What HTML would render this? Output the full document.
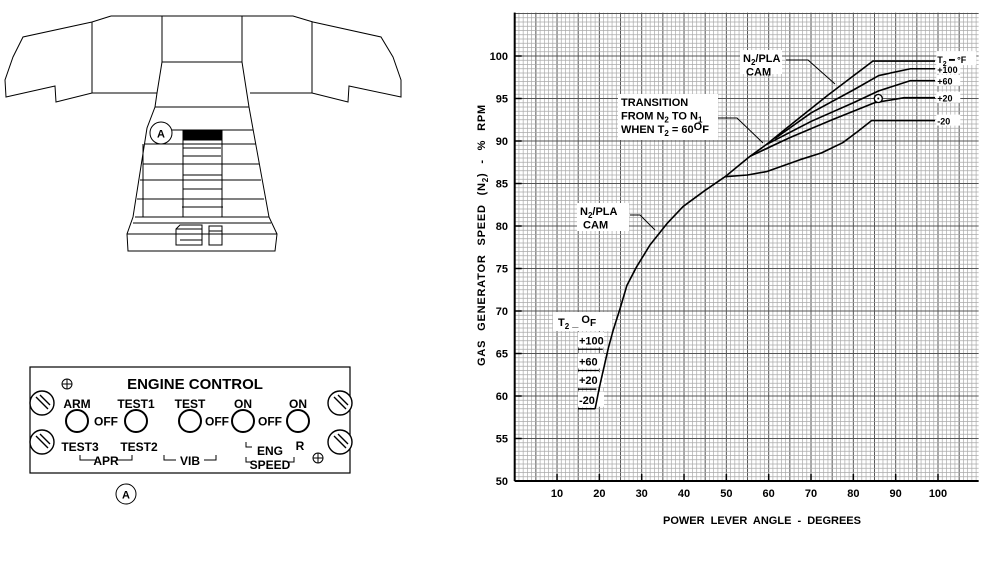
<!DOCTYPE html>
<html><head><meta charset="utf-8"><style>
body{margin:0;background:#fff;font-family:"Liberation Sans",Arial,sans-serif}
svg text{font-family:"Liberation Sans",Arial,sans-serif;font-weight:bold;fill:#000}
</style></head><body>
<svg id="s" width="982" height="569" viewBox="0 0 982 569" xmlns="http://www.w3.org/2000/svg">
<g fill="none" stroke="#000" stroke-width="1">
<path d="M111,16 L293,16 L313,22 L381,37 L393,57 L401,80 L401,97 L349,86 L348,102 L312,93 L250,93"/>
<path d="M111,16 L92,22 L23,37 L13,57 L5,80 L6,97 L55,86 L56,102 L92,93 L157,93"/>
<path d="M92,22 V93 M312,22 V93 M162,16 V62 M242,16 V62 M162,62 H242"/>
<path d="M162,62 L157,93 L155,107 L147,128 L133,217 L127,234 L128,251 L275,251 L277,234 L269,217 L249,107 L242,62"/>
<path d="M155,107 H249 M172,130 H253 M145,144 H256 M183,148 H221 M183,156 H221 M143,164 H259 M183,175 H222 M140,180 H261 M183,189 H222 M137,199 H264 M182,207 H223 M135,217 H269 M127,234 H277 M133,223 H271"/>
<path d="M183,130 V217 M222,130 V217 M143,144 V217"/>
<rect x="183" y="130" width="38" height="10" fill="#000"/>
<circle cx="161" cy="133" r="11" fill="#fff"/>
<path d="M176,229 L180,225 H202 V245 H176 Z M176,229 H202 M180,240 H202 M209,226 H222 V245 H209 Z M209,231 H222"/>
</g>
<text x="161" y="137.5" font-size="11" text-anchor="middle">A</text>

<g>
<rect x="30" y="367" width="320" height="106" fill="#fff" stroke="#000" stroke-width="1.2"/>
<text x="195" y="389" font-size="15" text-anchor="middle">ENGINE CONTROL</text>
<g fill="#fff" stroke="#000" stroke-width="1.4">
<circle cx="42" cy="403" r="12"/><circle cx="42" cy="442" r="12"/>
<circle cx="340" cy="403" r="12"/><circle cx="340" cy="442" r="12"/>
<path d="M36,397 L48,409 M40,395 L50,405 M36,436 L48,448 M40,434 L50,444 M334,397 L346,409 M338,395 L348,405 M334,436 L346,448 M338,434 L348,444"/>
<circle cx="77" cy="421" r="11" stroke-width="2"/>
<circle cx="136" cy="421" r="11" stroke-width="2"/>
<circle cx="190" cy="421" r="11" stroke-width="2"/>
<circle cx="243" cy="421" r="11" stroke-width="2"/>
<circle cx="298" cy="421" r="11" stroke-width="2"/>
<circle cx="67" cy="384" r="5" stroke-width="1"/><circle cx="318" cy="458" r="5" stroke-width="1"/>
<path d="M62,384 H72 M67,379 V389 M313,458 H323 M318,453 V463" stroke-width="1"/>
<path d="M80,455 V460 H96 M116,460 H132 V455 M164,455 V460 H176 M204,460 H216 V455 M246,442 V447 H252 M246,457 V462 H252 M288,462 H294 V457" fill="none" stroke-width="1"/>
</g>
<g font-size="12">
<text x="77" y="408" text-anchor="middle">ARM</text>
<text x="136" y="408" text-anchor="middle">TEST1</text>
<text x="190" y="408" text-anchor="middle">TEST</text>
<text x="243" y="408" text-anchor="middle">ON</text>
<text x="298" y="408" text-anchor="middle">ON</text>
<text x="106" y="425.5" text-anchor="middle">OFF</text>
<text x="217" y="425.5" text-anchor="middle">OFF</text>
<text x="270" y="425.5" text-anchor="middle">OFF</text>
<text x="80" y="451" text-anchor="middle">TEST3</text>
<text x="139" y="451" text-anchor="middle">TEST2</text>
<text x="106" y="465" text-anchor="middle">APR</text>
<text x="190" y="465" text-anchor="middle">VIB</text>
<text x="270" y="455" text-anchor="middle">ENG</text>
<text x="270" y="469" text-anchor="middle">SPEED</text>
<text x="300" y="450" text-anchor="middle">R</text>
</g>
</g>
<circle cx="126" cy="494" r="10" fill="#fff" stroke="#000"/>
<text x="126" y="498.5" font-size="11" text-anchor="middle">A</text>

<g id="chart">
<g id="gridL"></g><g id="boxL"></g><g id="curveL"></g><g id="textL"></g>
</g>
</svg>
<script>
const xTicks=[10,20,30,40,50,60,70,80,90,100];
const yTicks=[50,55,60,65,70,75,80,85,90,95,100];
const camCurve=[[19,58.5],[20,61],[22.1,65.6],[23.3,67.8],[24.9,70.3],[26.5,73],[28.8,75.2],[32,77.8],[36,80.3],[39.8,82.3],[45,84.2],[49.7,85.8],[55.6,88.2],[59.5,89.6],[64.2,91.5],[74,95.4],[84.6,99.4],[99.3,99.4]];
const cam100=[[61.5,90.3],[70,93.3],[80,96],[86,97.7],[93.5,98.5],[99.3,98.5]];
const cam60=[[59.5,89.6],[70,92.3],[80,94.5],[86,95.9],[93.5,97.1],[99.3,97.1]];
const cam20=[[55.6,88.2],[65,90.4],[75,92.5],[85,94.5],[92,95.1],[99.3,95.1]];
const camM20=[[49.7,85.8],[55,86],[59.5,86.4],[67.4,87.8],[72.5,88.6],[77.5,89.8],[81,91.1],[84.3,92.4],[99.3,92.4]];
const seriesLabels=["+100","+60","+20","-20"];
const lowTicksY=[65.5,63,60.8,58.5];
const marker=[85.9,95.0];
const NS="http://www.w3.org/2000/svg";
const gridL=document.getElementById('gridL'),boxL=document.getElementById('boxL'),curveL=document.getElementById('curveL'),textL=document.getElementById('textL');
const X=v=>514.7+4.233*v, Y=v=>481-8.5*(v-50);
function el(t,a,p){const e=document.createElementNS(NS,t);for(const k in a)e.setAttribute(k,a[k]);(p||textL).appendChild(e);return e;}
const xMax=109.6,yMax=105.1;
el('rect',{x:X(0),y:Y(yMax),width:X(xMax)-X(0),height:Y(50)-Y(yMax),fill:'#fff'},gridL);
for(let v=0;v<=xMax;v+=1){const l=el('line',{x1:X(v),x2:X(v),y1:Y(50),y2:Y(yMax),stroke:v%5==0?'#555':'#aaa','stroke-width':v%5==0?1:0.7},gridL);}
for(let v=50;v<=yMax;v+=0.5){const l=el('line',{x1:X(0),x2:X(xMax),y1:Y(v),y2:Y(v),stroke:v%5==0?'#555':'#aaa','stroke-width':v%5==0?1:0.7},gridL);}
el('line',{x1:X(0),x2:X(xMax),y1:Y(50),y2:Y(50),stroke:'#000','stroke-width':2});
el('line',{x1:X(0),x2:X(0),y1:Y(50),y2:Y(yMax),stroke:'#000','stroke-width':2});
xTicks.forEach(t=>{el('line',{x1:X(t),x2:X(t),y1:Y(50),y2:Y(50)-7,stroke:'#000','stroke-width':1.5});
const tx=el('text',{x:X(t),y:497,'font-size':11,'text-anchor':'middle'});tx.textContent=t;
});
yTicks.forEach(t=>{el('line',{x1:X(0),x2:X(0)+7,y1:Y(t),y2:Y(t),stroke:'#000','stroke-width':1.5});
const tx=el('text',{x:508,y:Y(t)+4,'font-size':11,'text-anchor':'end'});tx.textContent=t;
});
const xt=el('text',{x:762,y:524,'font-size':11,'text-anchor':'middle','word-spacing':'3'});xt.textContent='POWER LEVER ANGLE - DEGREES';

const yt=el('text',{x:0,y:0,'font-size':11,'text-anchor':'middle','word-spacing':'5','letter-spacing':'0.8',transform:'translate(485,235) rotate(-90)'});
yt.innerHTML='GAS GENERATOR SPEED (N<tspan font-size="8" dy="3">2</tspan><tspan dy="-3">) - % RPM</tspan>';

function line(pts,name){const p=el('polyline',{points:pts.map(q=>X(q[0])+','+Y(q[1])).join(' '),fill:'none',stroke:'#000','stroke-width':1.6,'stroke-linejoin':'round'},curveL);}
line(camCurve,'n2-pla-cam-curve');line(cam100,'curve-plus-100');line(cam60,'curve-plus-60');line(cam20,'curve-plus-20');line(camM20,'curve-minus-20');
el('line',{x1:X(15),x2:X(19),y1:Y(58.5),y2:Y(58.5),stroke:'#000','stroke-width':1.5},curveL);
const ends=[cam100,cam60,cam20,camM20];
ends.forEach((s,i)=>{const v=s[s.length-1][1];el('rect',{x:X(99.6),y:Y(v)-6,width:24,height:11,fill:'#fff'},boxL);
const t=el('text',{x:X(99.6)+1,y:Y(v)+4,'font-size':9});t.textContent=seriesLabels[i];
});
el('rect',{x:X(99.6),y:Y(99.4)-10,width:40,height:14,fill:'#fff'},boxL);
const th=el('text',{x:X(99.6)+1,y:Y(99.4)+2,'font-size':9});th.innerHTML='T<tspan font-size="7" dy="3">2</tspan><tspan dy="-3"> ━  °F</tspan>';
el('rect',{x:553,y:312,width:59,height:19,fill:'#fff'},boxL);
const tl=el('text',{x:558,y:326,'font-size':11});tl.innerHTML='T<tspan font-size="8" dy="3">2</tspan><tspan dy="-3">  _   </tspan><tspan dy="-3">O</tspan><tspan font-size="10" dy="3">F</tspan>';
seriesLabels.forEach((s,i)=>{const y=Y(lowTicksY[i]);el('rect',{x:578,y:y-17,width:26,height:15,fill:'#fff'},boxL);
el('line',{x1:578,x2:X(15)+4.23*[5.8,4.9,4.3,4][i],y1:y,y2:y,stroke:'#000','stroke-width':1.3},curveL);
const t=el('text',{x:579,y:y-5,'font-size':11});t.textContent=s;});
const m=el('circle',{cx:X(marker[0]),cy:Y(marker[1]),r:4,fill:'#fff',stroke:'#000','stroke-width':1.3});
el('circle',{cx:X(marker[0]),cy:Y(marker[1]),r:1,fill:'#000'});
function note(x,y,w,h,lines,ptr){el('rect',{x,y,width:w,height:h,fill:'#fff'},boxL);
lines.forEach((s,i)=>{const t=el('text',{x:x+3,y:y+12+i*13.5,'font-size':11});t.innerHTML=s;});
el('polyline',{points:ptr,fill:'none',stroke:'#000','stroke-width':1},curveL);}
note(740,50,42,24,['N<tspan font-size="8" dy="3">2</tspan><tspan dy="-3">/PLA</tspan>','&#160;CAM'],'786,60 808,60 835,84');
note(618,94,100,46,['TRANSITION','FROM N<tspan font-size="8" dy="3">2</tspan><tspan dy="-3"> TO N</tspan><tspan font-size="8" dy="3">1</tspan>','<tspan>WHEN T</tspan><tspan font-size="8" dy="3">2</tspan><tspan dy="-3">  =  60</tspan><tspan dy="-3">O</tspan><tspan dy="3">F</tspan>'],'718,118 737,118 763,143');
note(577,203,52,28,['N<tspan font-size="8" dy="3">2</tspan><tspan dy="-3">/PLA</tspan>','&#160;CAM'],'630,215 640,215 655,230');
</script>
</body></html>
